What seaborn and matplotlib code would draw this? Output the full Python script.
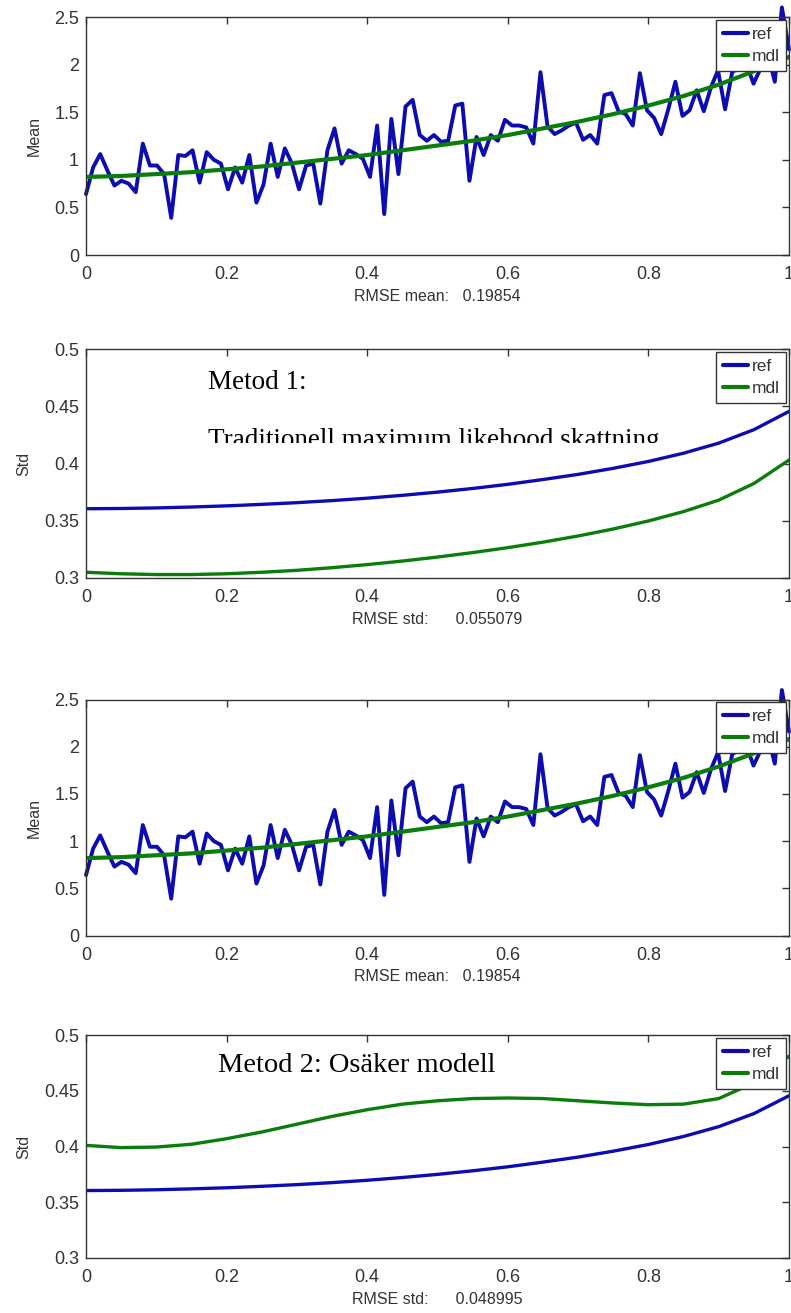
import numpy as np
import matplotlib
matplotlib.use("Agg")
import matplotlib.pyplot as plt
from matplotlib.transforms import Bbox, TransformedBbox
import seaborn as sns

# medelvärde: referens (100 punkter, 0..1) och modellkurva
t_ref = np.linspace(0, 1, 100)
ref_mean = [0.64, 0.92, 1.06, 0.89, 0.73, 0.78, 0.75, 0.66, 1.17, 0.94,
            0.94, 0.85, 0.39, 1.05, 1.04, 1.10, 0.76, 1.08, 1.00, 0.96,
            0.69, 0.92, 0.76, 1.05, 0.55, 0.74, 1.17, 0.82, 1.12, 0.96,
            0.69, 0.94, 0.96, 0.54, 1.10, 1.33, 0.96, 1.10, 1.06, 1.01,
            0.82, 1.36, 0.43, 1.43, 0.85, 1.56, 1.63, 1.26, 1.20, 1.26,
            1.19, 1.20, 1.57, 1.59, 0.78, 1.24, 1.05, 1.26, 1.20, 1.42,
            1.36, 1.36, 1.34, 1.17, 1.92, 1.35, 1.27, 1.31, 1.36, 1.39,
            1.21, 1.26, 1.17, 1.68, 1.70, 1.51, 1.48, 1.36, 1.91, 1.52,
            1.44, 1.27, 1.53, 1.82, 1.46, 1.52, 1.73, 1.51, 1.76, 1.94,
            1.53, 1.92, 1.97, 2.01, 1.80, 1.96, 2.12, 1.82, 2.60, 2.16]

t_mdl = np.linspace(0, 1, 21)
mdl_mean = [0.82, 0.83, 0.85, 0.87, 0.90, 0.93, 0.97, 1.01, 1.05, 1.10,
            1.15, 1.20, 1.26, 1.33, 1.40, 1.48, 1.57, 1.67, 1.79, 1.93, 2.08]

# standardavvikelse
ref_std = [0.3605, 0.3607, 0.3612, 0.3620, 0.3630, 0.3643, 0.3658, 0.3676,
           0.3697, 0.3722, 0.3750, 0.3782, 0.3818, 0.3860, 0.3905, 0.3958,
           0.4018, 0.4090, 0.4178, 0.4295, 0.4455]
mdl_std_1 = [0.3050, 0.3037, 0.3030, 0.3030, 0.3037, 0.3050, 0.3067, 0.3090,
             0.3117, 0.3148, 0.3183, 0.3222, 0.3265, 0.3313, 0.3367, 0.3428,
             0.3498, 0.3580, 0.3680, 0.3825, 0.4030]
mdl_std_2 = [0.4010, 0.3990, 0.3995, 0.4020, 0.4070, 0.4130, 0.4200, 0.4270,
             0.4330, 0.4380, 0.4410, 0.4430, 0.4435, 0.4430, 0.4410, 0.4390,
             0.4375, 0.4380, 0.4430, 0.4570, 0.4810]

rmse_mean = "RMSE mean:   0.19854"
rmse_std_1 = "RMSE std:      0.055079"
rmse_std_2 = "RMSE std:      0.048995"

x_ticks = [0, 0.2, 0.4, 0.6, 0.8, 1]
x_ticklabels = ["0", "0.2", "0.4", "0.6", "0.8", "1"]
mean_ticks = [0, 0.5, 1, 1.5, 2, 2.5]
mean_ticklabels = ["0", "0.5", "1", "1.5", "2", "2.5"]
std_ticks = [0.3, 0.35, 0.4, 0.45, 0.5]
std_ticklabels = ["0.3", "0.35", "0.4", "0.45", "0.5"]

BLUE = "#0c0cb0"
GREEN = "#0a7d0a"
FG = "#333333"

sns.set_style("white")
plt.rcParams["font.family"] = ["Liberation Sans", "DejaVu Sans"]
plt.rcParams["axes.edgecolor"] = FG
plt.rcParams["axes.linewidth"] = 1.0
plt.rcParams["text.color"] = FG
plt.rcParams["axes.labelcolor"] = FG

W, H = 791, 1313
fig = plt.figure(figsize=(W / 100, H / 100), dpi=100)

# [vänster, topp, botten] i pixlar
panels = [(86, 17, 255), (86, 349, 578), (86, 699.5, 935.5), (86, 1035, 1258)]
axes = []
for left, top, bottom in panels:
    ax = fig.add_axes([left / W, 1 - bottom / H, 703 / W, (bottom - top) / H])
    axes.append(ax)


def style_axis(ax, yticks, yticklabels, ylabel, xlabel):
    ax.set_xlim(0, 1)
    ax.set_ylim(yticks[0], yticks[-1])
    ax.set_xticks(x_ticks)
    ax.set_xticklabels(x_ticklabels)
    ax.set_yticks(yticks)
    ax.set_yticklabels(yticklabels)
    ax.tick_params(direction="in", length=5, width=1, color=FG, labelsize=13,
                   labelcolor=FG, top=True, right=True)
    ax.tick_params(axis="x", pad=8)
    ax.tick_params(axis="y", pad=5)
    ax.set_ylabel(ylabel, fontsize=11.5, labelpad=9)
    ax.set_xlabel(xlabel, fontsize=11.5, labelpad=4)
    for s in ax.spines.values():
        s.set_visible(True)
        s.set_color(FG)


def add_legend(ax):
    leg = ax.legend(loc="upper right", fontsize=12.5, frameon=True, fancybox=False,
                    handlelength=1.45, handletextpad=0.2, borderpad=0.4,
                    labelspacing=0.4, borderaxespad=0.15, framealpha=1)
    leg.get_frame().set_edgecolor(FG)
    leg.get_frame().set_linewidth(1.0)
    for line in leg.get_lines():
        line.set_linewidth(3)


# panel 1 och 3: medelvärde
for ax in (axes[0], axes[2]):
    sns.lineplot(x=t_ref, y=ref_mean, ax=ax, color=BLUE, linewidth=2.8, label="ref")
    sns.lineplot(x=t_mdl, y=mdl_mean, ax=ax, color=GREEN, linewidth=3.0, label="mdl")
    ax.lines[0].set_clip_on(False)
    style_axis(ax, mean_ticks, mean_ticklabels, "Mean", rmse_mean)
    add_legend(ax)

# panel 2 och 4: standardavvikelse
for ax, mdl, label in ((axes[1], mdl_std_1, rmse_std_1), (axes[3], mdl_std_2, rmse_std_2)):
    sns.lineplot(x=t_mdl, y=ref_std, ax=ax, color=BLUE, linewidth=2.4, label="ref")
    sns.lineplot(x=t_mdl, y=mdl, ax=ax, color=GREEN, linewidth=2.4, label="mdl")
    style_axis(ax, std_ticks, std_ticklabels, "Std", label)
    add_legend(ax)

# textrutor (Times-liknande)
serif = ["Liberation Serif", "DejaVu Serif"]
fig.text(208 / W, 1 - 389 / H, "Metod 1:", family=serif, fontsize=19.5,
         color="black", va="baseline")
t2 = fig.text(208 / W, 1 - 447 / H, "Traditionell maximum likehood skattning",
              family=serif, fontsize=19.5, color="black", va="baseline")
t2.set_clip_on(True)
t2.set_clip_box(TransformedBbox(Bbox([[0, 1 - 443 / H], [1, 1]]), fig.transFigure))
fig.text(218 / W, 1 - 1072 / H, "Metod 2: Osäker modell", family=serif,
         fontsize=20.5, color="black", va="baseline")

plt.savefig("out.png", dpi=100)
